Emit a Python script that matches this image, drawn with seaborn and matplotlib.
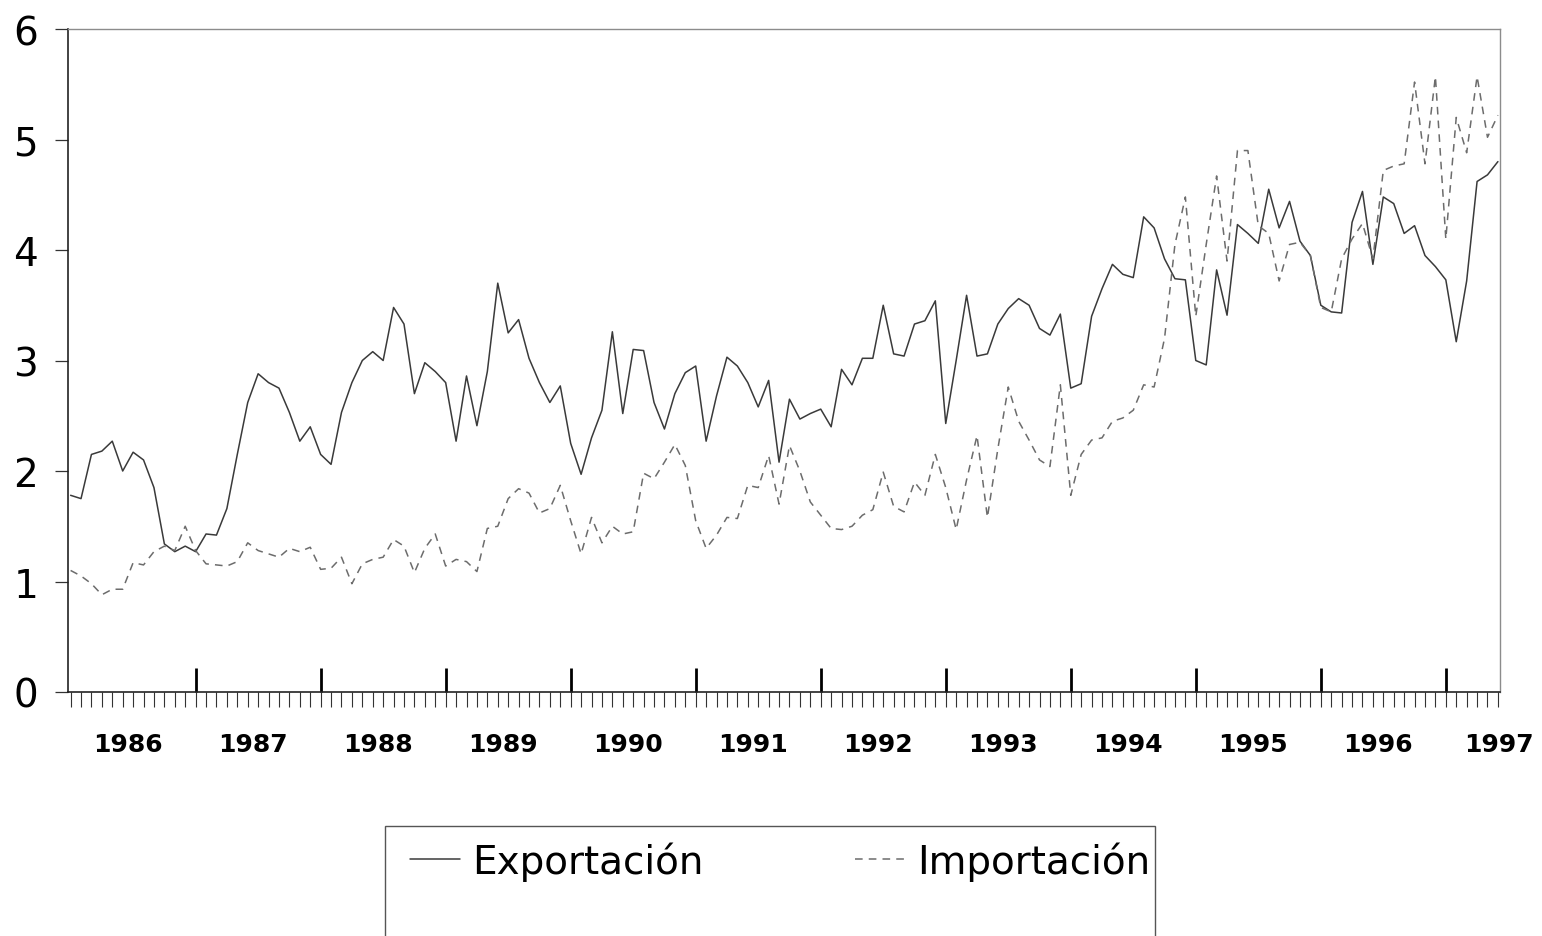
import numpy as np
import pandas as pd
import matplotlib
matplotlib.use("Agg")
import matplotlib.pyplot as plt
import seaborn as sns
from matplotlib.lines import Line2D
from matplotlib.patches import Rectangle

# ---------------- data (monthly, Jan 1986 .. Jun 1997) ----------------
exportacion = [
    1.78, 1.75, 2.15, 2.18, 2.27, 2.00, 2.17, 2.10, 1.85, 1.34, 1.27, 1.32,
    1.27, 1.43, 1.42, 1.66, 2.15, 2.62, 2.88, 2.80, 2.75, 2.53, 2.27, 2.40,
    2.15, 2.06, 2.53, 2.80, 3.00, 3.08, 3.00, 3.48, 3.33, 2.70, 2.98, 2.90,
    2.80, 2.27, 2.86, 2.41, 2.90, 3.70, 3.25, 3.37, 3.02, 2.80, 2.62, 2.77,
    2.25, 1.97, 2.30, 2.55, 3.26, 2.52, 3.10, 3.09, 2.62, 2.38, 2.70, 2.89,
    2.95, 2.27, 2.68, 3.03, 2.95, 2.80, 2.58, 2.82, 2.08, 2.65, 2.47, 2.52,
    2.56, 2.40, 2.92, 2.78, 3.02, 3.02, 3.50, 3.06, 3.04, 3.33, 3.36, 3.54,
    2.43, 3.00, 3.59, 3.04, 3.06, 3.33, 3.47, 3.56, 3.50, 3.29, 3.23, 3.42,
    2.75, 2.79, 3.40, 3.65, 3.87, 3.78, 3.75, 4.30, 4.20, 3.92, 3.74, 3.73,
    3.00, 2.96, 3.82, 3.41, 4.23, 4.15, 4.06, 4.55, 4.20, 4.44, 4.08, 3.95,
    3.50, 3.44, 3.43, 4.25, 4.53, 3.87, 4.48, 4.42, 4.15, 4.22, 3.95, 3.85,
    3.73, 3.17, 3.72, 4.62, 4.68, 4.80,
]
importacion = [
    1.10, 1.05, 0.98, 0.88, 0.93, 0.93, 1.17, 1.15, 1.27, 1.32, 1.28, 1.50,
    1.28, 1.16, 1.15, 1.14, 1.18, 1.35, 1.28, 1.25, 1.22, 1.30, 1.27, 1.31,
    1.11, 1.12, 1.22, 0.98, 1.16, 1.20, 1.22, 1.38, 1.32, 1.08, 1.30, 1.43,
    1.14, 1.20, 1.18, 1.09, 1.48, 1.50, 1.75, 1.84, 1.80, 1.62, 1.66, 1.87,
    1.55, 1.25, 1.58, 1.35, 1.50, 1.43, 1.45, 1.98, 1.93, 2.08, 2.24, 2.05,
    1.55, 1.30, 1.42, 1.58, 1.57, 1.87, 1.85, 2.14, 1.70, 2.23, 2.00, 1.72,
    1.60, 1.48, 1.47, 1.50, 1.60, 1.65, 1.99, 1.68, 1.63, 1.90, 1.78, 2.15,
    1.85, 1.47, 1.92, 2.32, 1.58, 2.20, 2.76, 2.45, 2.28, 2.10, 2.04, 2.78,
    1.78, 2.15, 2.28, 2.30, 2.45, 2.48, 2.55, 2.78, 2.76, 3.20, 4.05, 4.48,
    3.40, 4.05, 4.67, 3.90, 4.90, 4.90, 4.22, 4.15, 3.72, 4.05, 4.07, 3.95,
    3.48, 3.44, 3.92, 4.10, 4.24, 3.92, 4.72, 4.76, 4.78, 5.52, 4.78, 5.57,
    4.10, 5.20, 4.88, 5.57, 5.02, 5.22,
]
anios = ["1986", "1987", "1988", "1989", "1990", "1991",
         "1992", "1993", "1994", "1995", "1996", "1997"]
series = ["Exportación", "Importación"]

n = len(exportacion)
meses = np.arange(n)

df = pd.DataFrame({
    "mes": np.concatenate([meses, meses]),
    "valor": exportacion + importacion,
    "serie": [series[0]] * n + [series[1]] * n,
})

# ---------------- style ----------------
sns.set_theme(style="ticks")
plt.rcParams["font.family"] = ["DejaVu Sans"]
plt.rcParams["text.color"] = "black"
plt.rcParams["xtick.labelcolor"] = "black"
plt.rcParams["ytick.labelcolor"] = "black"

W, H = 1542, 937
fig = plt.figure(figsize=(W / 100, H / 100), dpi=100)
fig.patch.set_facecolor("white")
ax = fig.add_axes([68 / W, 1 - 693 / H, (1500 - 68) / W, (693 - 30) / H])
ax.set_facecolor("white")

col_exp = "#3a3a3a"
col_imp = "#6c6c6c"
sns.lineplot(data=df, x="mes", y="valor", hue="serie", style="serie",
             palette={series[0]: col_exp, series[1]: col_imp},
             dashes={series[0]: "", series[1]: (5, 4)},
             linewidth=1.1, legend=False, ax=ax)

ax.set_xlim(-0.25, 137.2)
ax.set_ylim(0, 6)
ax.set_xlabel("")
ax.set_ylabel("")

# y axis
ax.set_yticks(range(7))
ax.tick_params(axis="y", direction="out", length=9.5, width=0.9,
               color="#333333", labelsize=28, pad=12, labelcolor="black")

# x axis: year boundaries (tall inner ticks) + monthly minor ticks
ax.xaxis.remove_overlapping_locs = False
ax.set_xticks(np.arange(12, n, 12))
ax.set_xticklabels([])
ax.set_xticks(meses, minor=True)
ax.tick_params(axis="x", which="major", direction="in", length=17,
               width=2.0, color="black")
ax.tick_params(axis="x", which="minor", direction="out", length=11,
               width=0.8, color="#333333")

# year labels
pos_lab = [5.5 + 12 * k for k in range(len(anios) - 1)] + [137.1]
sec = ax.secondary_xaxis("bottom")
sec.set_xticks(pos_lab, labels=anios)
sec.tick_params(length=0, pad=29, labelsize=18, labelcolor="black")
for lbl in sec.get_xticklabels():
    lbl.set_fontweight("bold")
sec.spines["bottom"].set_visible(False)

# spines
for s in ["top", "right"]:
    ax.spines[s].set_color("#8c8c8c")
    ax.spines[s].set_linewidth(1.0)
for s in ["left", "bottom"]:
    ax.spines[s].set_color("#222222")
    ax.spines[s].set_linewidth(1.2)

# legend (frame partly cut by the bottom edge, as in the scan)
frame = Rectangle((385 / W, -0.05), (1155 - 385) / W, 0.05 + 1 - 827 / H,
                  transform=fig.transFigure, fill=False,
                  edgecolor="#555555", linewidth=1.0)
fig.add_artist(frame)
handles = [Line2D([], [], color=col_exp, linewidth=1.1),
           Line2D([], [], color=col_imp, linewidth=1.1, dashes=(5, 4))]
leg = fig.legend(handles, series, loc="center",
                 bbox_to_anchor=(780 / W, 1 - 862 / H),
                 ncol=2, frameon=False, fontsize=28, handlelength=1.29,
                 handletextpad=0.3, columnspacing=3.9, borderpad=0.0)
for t in leg.get_texts():
    t.set_color("black")

fig.savefig("out.png", dpi=100, facecolor="white")
